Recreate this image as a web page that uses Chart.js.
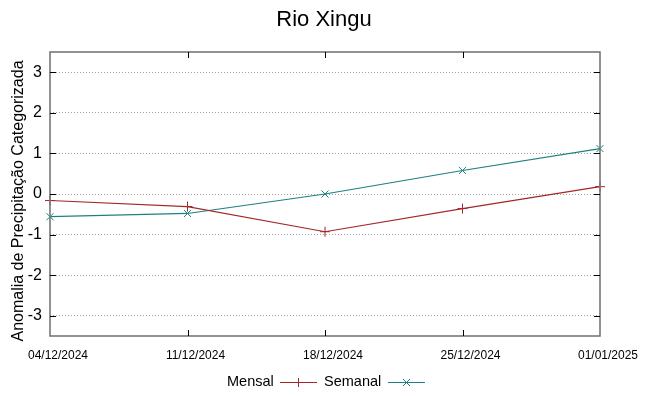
<!DOCTYPE html>
<html>
<head>
<meta charset="utf-8">
<script src="https://cdn.jsdelivr.net/npm/chart.js@4"></script>
<style>
  body { margin: 0; background: #fff; }
  #wrap { position: relative; width: 648px; height: 396px; overflow: hidden; }
  #title { position: absolute; top: 6px; left: 0; width: 648px; text-align: center;
           font: 22px "Liberation Sans", Arial, sans-serif; color: #000; }
  #ytitle { position: absolute; left: -131px; top: 191px; width: 300px; height: 20px; line-height: 20px;
            text-align: center; transform: rotate(-90deg); white-space: nowrap;
            font: 16px "Liberation Sans", Arial, sans-serif; color: #000; }
  .leg { position: absolute; top: 373px; font: 14.5px "Liberation Sans", Arial, sans-serif; color: #000;
         white-space: nowrap; }
  .amostra { position: absolute; top: 377px; }
</style>
</head>
<body>
<div id="wrap">
  <canvas id="chart" width="648" height="396"></canvas>
  <div id="title">Rio Xingu</div>
  <div id="ytitle">Anomalia de Precipitação Categorizada</div>
  <span class="leg" style="left:227px">Mensal</span>
  <svg class="amostra" style="left:280px" width="37" height="10"><line x1="0" y1="5.5" x2="37" y2="5.5" stroke="#a32828" stroke-width="1.2"/><line x1="18.5" y1="1" x2="18.5" y2="10" stroke="#a32828"/></svg>
  <span class="leg" style="left:324px">Semanal</span>
  <svg class="amostra" style="left:388px" width="37" height="10"><line x1="0" y1="5.5" x2="37" y2="5.5" stroke="#1e8080" stroke-width="1.2"/><line x1="15" y1="2" x2="22" y2="9" stroke="#1e8080"/><line x1="15" y1="9" x2="22" y2="2" stroke="#1e8080"/></svg>
</div>
<script>
const datas = ["04/12/2024", "11/12/2024", "18/12/2024", "25/12/2024", "01/01/2025"];
const mensal = [-0.16, -0.31, -0.93, -0.36, 0.18];
const semanal = [-0.56, -0.48, 0.0, 0.58, 1.12];
const yTicks = [-3, -2, -1, 0, 1, 2, 3];

const ctx = document.getElementById("chart").getContext("2d");

// moldura e marcas internas estilo gnuplot
const moldura = {
    id: "moldura",
    afterDraw(chart) {
        const a = chart.chartArea;
        const c = chart.ctx;
        const y = chart.scales.y;
        const x = chart.scales.x;
        c.save();
        c.strokeStyle = "#777";
        c.lineWidth = 1.6;
        c.strokeRect(a.left, a.top, a.right - a.left, a.bottom - a.top);
        c.strokeStyle = "#000";
        c.lineWidth = 1;
        c.beginPath();
        yTicks.forEach(v => {
            let py = Math.round(y.getPixelForValue(v)) + 0.5;
            c.moveTo(a.left, py); c.lineTo(a.left + 6, py);
            c.moveTo(a.right, py); c.lineTo(a.right - 6, py);
        });
        for (let i = 1; i < datas.length - 1; i++) {
            let px = Math.round(x.getPixelForValue(i)) + 0.5;
            c.moveTo(px, a.bottom); c.lineTo(px, a.bottom - 6);
            c.moveTo(px, a.top); c.lineTo(px, a.top + 6);
        }
        c.stroke();
        c.restore();
    }
};

new Chart(ctx, {
    type: "line",
    data: {
        labels: datas,
        datasets: [{
            label: "Mensal",
            data: mensal,
            borderColor: "#a32828",
            backgroundColor: "#a32828",
            borderWidth: 1.2,
            pointStyle: "cross",
            pointRadius: 5,
            pointBorderWidth: 1,
            tension: 0
        }, {
            label: "Semanal",
            data: semanal,
            borderColor: "#1e8080",
            backgroundColor: "#1e8080",
            borderWidth: 1.2,
            pointStyle: "crossRot",
            pointRadius: 5,
            pointBorderWidth: 1,
            tension: 0
        }]
    },
    options: {
        responsive: false,
        animation: false,
        layout: { padding: { top: 52, right: 48, left: 0, bottom: 0 } },
        plugins: {
            legend: { display: false },
            title: { display: false },
            tooltip: { enabled: false }
        },
        scales: {
            x: {
                type: "category",
                offset: false,
                afterFit(scale) { scale.height = 60; },
                grid: { display: false, drawTicks: false },
                border: { display: false },
                ticks: {
                    padding: 12,
                    labelOffset: 8,
                    maxRotation: 0,
                    autoSkip: false,
                    color: "#000",
                    font: { family: "Liberation Sans", size: 12 }
                }
            },
            y: {
                min: -3.5,
                max: 3.5,
                afterFit(scale) { scale.width = 50; },
                afterBuildTicks(scale) { scale.ticks = yTicks.map(v => ({ value: v })); },
                grid: { color: "#a0a0a0", lineWidth: 1, drawTicks: false },
                border: { display: false, dash: [1, 2] },
                ticks: {
                    padding: 8,
                    color: "#000",
                    font: { family: "Liberation Sans", size: 16 }
                }
            }
        }
    },
    plugins: [moldura]
});
</script>
</body>
</html>
